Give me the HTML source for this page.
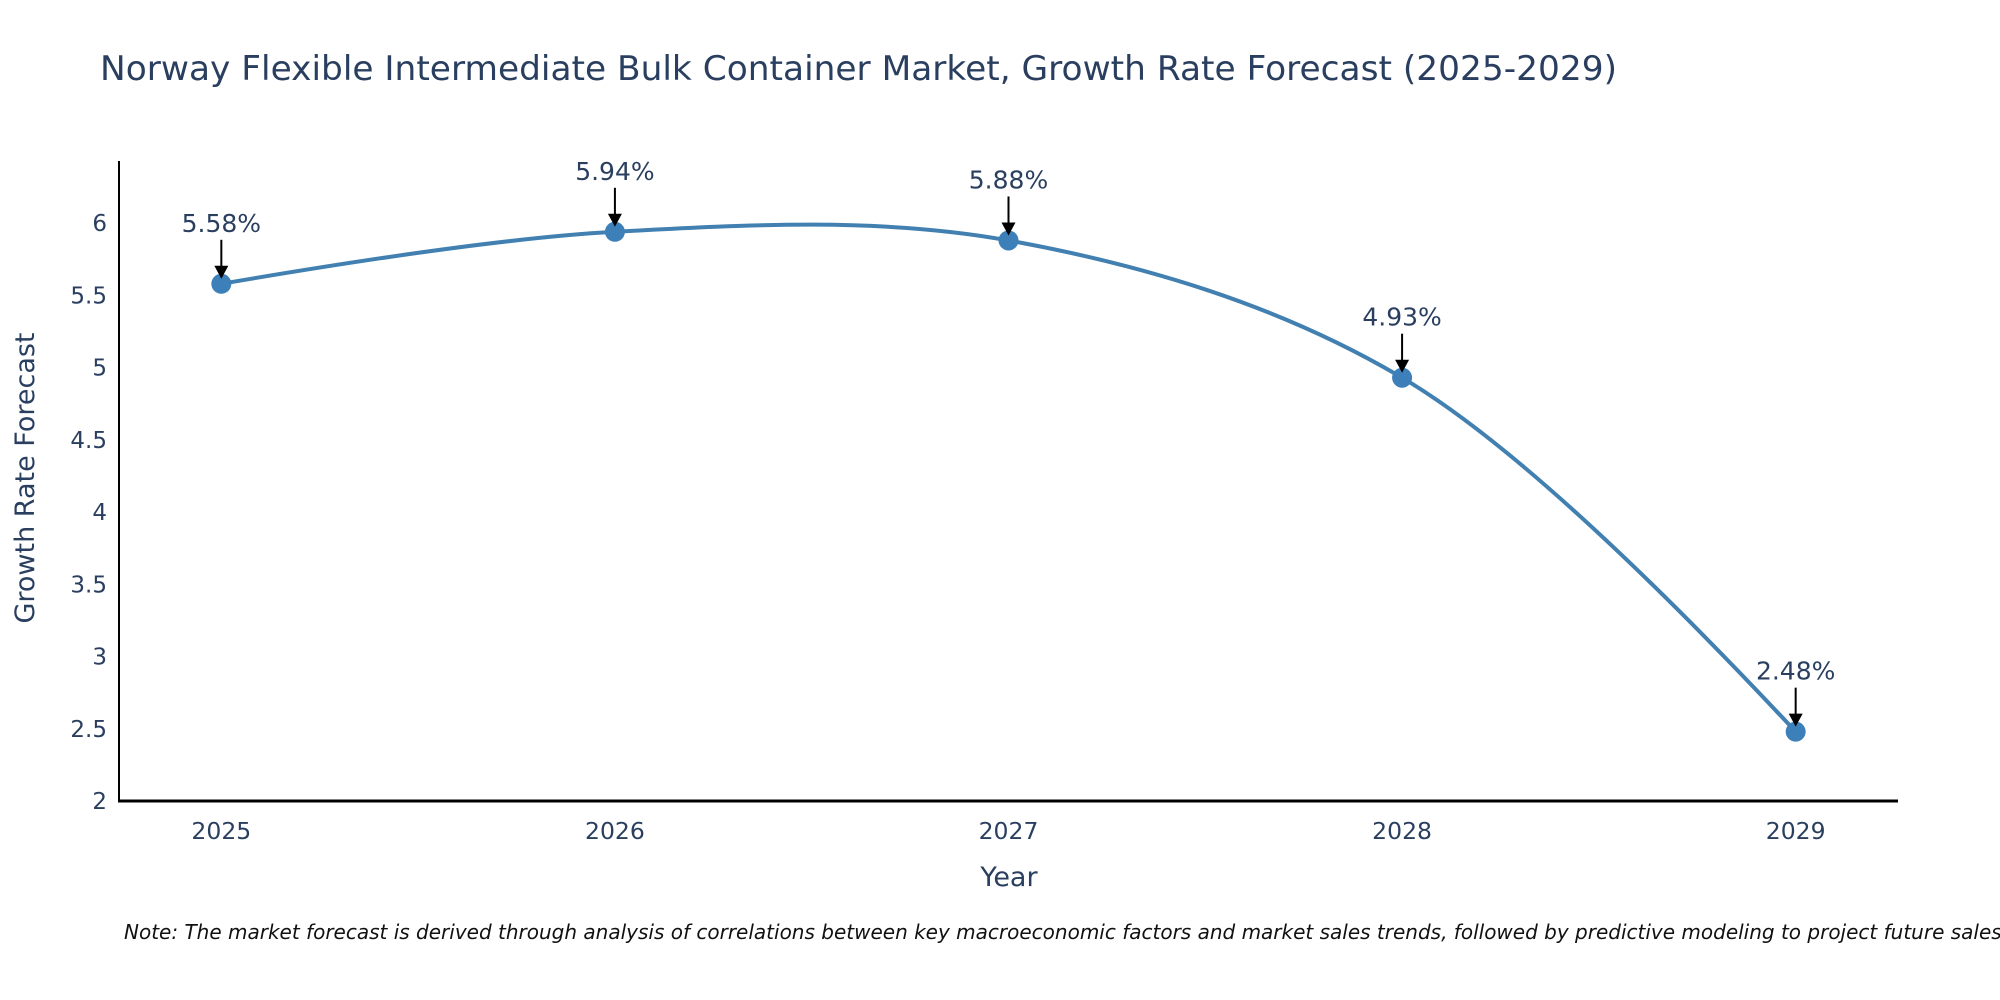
<!DOCTYPE html>
<html><head><meta charset="utf-8"><style>
html,body{margin:0;padding:0;background:#fff;overflow:hidden;}
svg{display:block;font-family:"DejaVu Sans","Liberation Sans",sans-serif;}
</style></head><body>
<svg id="chart" width="2000" height="1000">
<text x="100" y="80" font-size="34" fill="#2a3f5f" textLength="1517" lengthAdjust="spacingAndGlyphs">Norway Flexible Intermediate Bulk Container Market, Growth Rate Forecast (2025-2029)</text>
<text transform="translate(34,478) rotate(-90)" text-anchor="middle" font-size="27" fill="#2a3f5f">Growth Rate Forecast</text>
<text x="1009" y="886" text-anchor="middle" font-size="27" fill="#2a3f5f">Year</text>
<text x="124" y="939" font-size="20" font-style="italic" fill="#111">Note: The market forecast is derived through analysis of correlations between key macroeconomic factors and market sales trends, followed by predictive modeling to project future sales.</text>
<g id="plot"></g>
</svg>
<script>
const years = [2025, 2026, 2027, 2028, 2029];
const values = [5.58, 5.94, 5.88, 4.93, 2.48];
const labels = ["5.58%", "5.94%", "5.88%", "4.93%", "2.48%"];
const yTicks = [2, 2.5, 3, 3.5, 4, 4.5, 5, 5.5, 6];

const NS = "http://www.w3.org/2000/svg";
const g = document.getElementById("plot");
const X0 = 119, X1 = 1898, Y0 = 801, Y1 = 161;
const yMin = 2, yMax = 6.43;
const xPad = 0.26;
function xs(v){ return X0 + (v - (years[0]-xPad)) / ((years[years.length-1]+xPad) - (years[0]-xPad)) * (X1 - X0); }
function ys(v){ return Y0 - (v - yMin) / (yMax - yMin) * (Y0 - Y1); }
function mk(tag, attrs){ const e = document.createElementNS(NS, tag); for (const k in attrs) e.setAttribute(k, attrs[k]); g.appendChild(e); return e; }

yTicks.forEach(t => {
  const e = mk("text", {x: X0 - 12, y: ys(t) + 8, "text-anchor": "end", "font-size": 23, fill: "#2a3f5f"});
  e.textContent = t;
  
  
});
years.forEach(yr => {
  const e = mk("text", {x: xs(yr), y: Y0 + 38, "text-anchor": "middle", "font-size": 23.5, fill: "#2a3f5f"});
  e.textContent = yr;
  
  
});
const ya = mk("line", {x1: X0, y1: Y1, x2: X0, y2: Y0 + 1, stroke: "#000", "stroke-width": 2});


const xa = mk("line", {x1: X0 - 1, y1: Y0, x2: X1, y2: Y0, stroke: "#000", "stroke-width": 3});



const pts = years.map((yr, i) => [xs(yr), ys(values[i])]);
function tangent(a, b, c){
  const d1x = a[0]-b[0], d1y = a[1]-b[1], d2x = c[0]-b[0], d2y = c[1]-b[1];
  const d1a = Math.pow(d1x*d1x + d1y*d1y, 0.25), d2a = Math.pow(d2x*d2x + d2y*d2y, 0.25);
  const nx = d2a*d2a*d1x - d1a*d1a*d2x, ny = d2a*d2a*d1y - d1a*d1a*d2y;
  const den1 = 3*d2a*(d1a+d2a), den2 = 3*d1a*(d1a+d2a);
  return [[b[0]+nx/den1, b[1]+ny/den1], [b[0]-nx/den2, b[1]-ny/den2]];
}
const tg = [];
for (let i = 1; i < pts.length - 1; i++) tg.push(tangent(pts[i-1], pts[i], pts[i+1]));
let d = "M" + pts[0] + " Q" + tg[0][0] + " " + pts[1];
for (let i = 2; i < pts.length - 1; i++) d += " C" + tg[i-2][1] + " " + tg[i-1][0] + " " + pts[i];
d += " Q" + tg[tg.length-1][1] + " " + pts[pts.length-1];
const line = mk("path", {d: d, fill: "none", stroke: "#4180b0", "stroke-width": 4});



pts.forEach((p, i) => {
  const c = mk("circle", {cx: p[0], cy: p[1], r: 10, fill: "#3d7fb8"});
  
  
  const a = mk("line", {x1: p[0], y1: p[1] - 44, x2: p[0], y2: p[1] - 16, stroke: "#000", "stroke-width": 2});
  
  
  const h = mk("polygon", {points: (p[0]-7)+","+(p[1]-18)+" "+(p[0]+7)+","+(p[1]-18)+" "+p[0]+","+(p[1]-5), fill: "#000"});
  
  
  const t = mk("text", {x: p[0], y: p[1] - 52, "text-anchor": "middle", "font-size": 25, fill: "#2a3f5f"});
  t.textContent = labels[i];
  
  
});
</script>
</body></html>
